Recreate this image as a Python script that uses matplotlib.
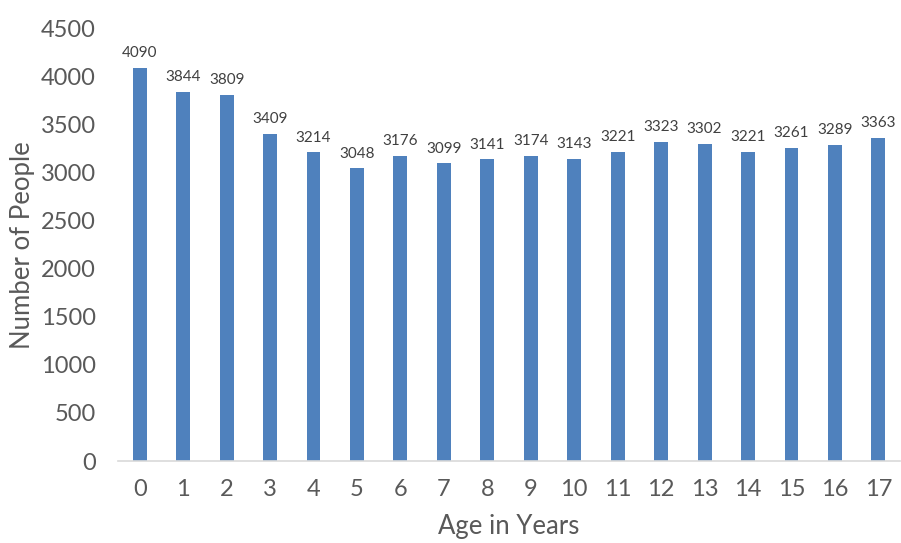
import matplotlib
matplotlib.use("Agg")
import matplotlib.pyplot as plt

ages = list(range(18))
people = [4090, 3844, 3809, 3409, 3214, 3048, 3176, 3099, 3141,
          3174, 3143, 3221, 3323, 3302, 3221, 3261, 3289, 3363]

plt.rcParams['font.family'] = ['Lato', 'DejaVu Sans']
text_col = '#595959'

fig = plt.figure(figsize=(9.01, 5.43), dpi=100)
ax = fig.add_axes([0.131, 0.151, 0.868, 0.796])

bars = ax.bar(ages, people, width=0.32, color='#4F81BD')
for b, v in zip(bars, people):
    ax.text(b.get_x() + b.get_width() / 2, v + 80, str(v), ha='center', va='bottom',
            fontsize=11, color='#404040')

ax.set_xlim(-0.5, 17.5)
ax.set_ylim(0, 4500)
ax.set_yticks(range(0, 4501, 500))
ax.set_xticks(ages)
ax.tick_params(axis='both', length=0, labelsize=17, colors=text_col)
ax.tick_params(axis='x', pad=13)
ax.tick_params(axis='y', pad=16)

for s in ['top', 'right', 'left']:
    ax.spines[s].set_visible(False)
ax.spines['bottom'].set_color('#d9d9d9')
ax.spines['bottom'].set_linewidth(1.2)

ax.set_xlabel('Age in Years', fontsize=18.5, color=text_col, labelpad=10)
ax.set_ylabel('Number of People', fontsize=18.5, color=text_col, labelpad=4)

fig.savefig('out.png', dpi=100)
